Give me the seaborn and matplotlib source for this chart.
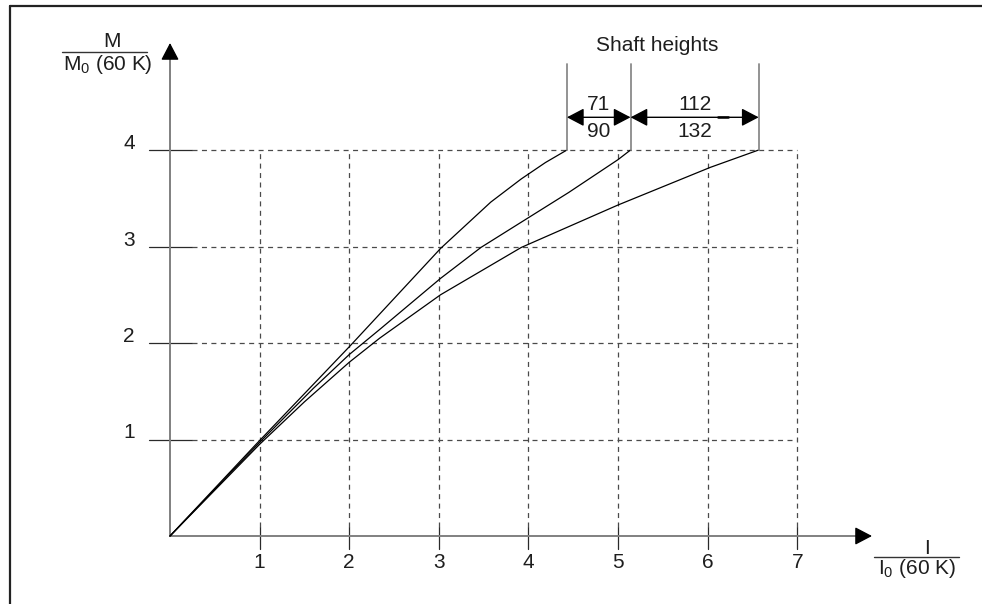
import numpy as np
import pandas as pd
import matplotlib
matplotlib.use("Agg")
import matplotlib.pyplot as plt
from matplotlib.lines import Line2D
import seaborn as sns

# Torque/current characteristics for the shaft height groups
shaft_groups = ["71/90", "100", "112/132"]
curve_a_x = [0, 0.95, 2.01, 2.34, 3.02, 3.58, 3.92, 4.19, 4.43]
curve_a_y = [0, 0.94, 1.97, 2.30, 2.98, 3.46, 3.70, 3.87, 4.00]
curve_b_x = [0, 1.00, 1.60, 2.00, 2.34, 3.02, 3.47, 4.02, 4.45, 5.00, 5.14]
curve_b_y = [0, 0.97, 1.53, 1.88, 2.14, 2.67, 2.99, 3.31, 3.56, 3.90, 4.00]
curve_c_x = [0, 1.00, 1.50, 2.00, 2.34, 3.02, 3.92, 5.00, 6.03, 6.57]
curve_c_y = [0, 0.95, 1.39, 1.80, 2.05, 2.50, 2.99, 3.43, 3.82, 4.00]

x_ticks = [1, 2, 3, 4, 5, 6, 7]
y_ticks = [1, 2, 3, 4]
dim_labels = [("71", "90"), ("112", "132")]

sns.set_theme(style="white")
plt.rcParams["font.family"] = ["Liberation Sans", "DejaVu Sans"]
plt.rcParams["mathtext.fontset"] = "custom"
plt.rcParams["mathtext.rm"] = "Liberation Sans"
plt.rcParams["mathtext.it"] = "Liberation Sans"
plt.rcParams["lines.scale_dashes"] = False

W, H = 982, 604
fig = plt.figure(figsize=(W / 100, H / 100), dpi=100)
ax = fig.add_axes([0, 0, 1, 1])

# pixel layout: origin at (170, 536), 89.6 px per x unit, 96.5 px per y unit
x0_px, y0_px, sx, sy = 170.0, 536.0, 89.6, 96.5
ax.set_xlim(-x0_px / sx, (W - x0_px) / sx)
ax.set_ylim(-(H - y0_px) / sy, y0_px / sy)
ax.set_axis_off()

def px_x(n):
    return n / sx

def px_y(n):
    return n / sy

TXT = "#1e1e1e"
FS = 15
grid_col = "#4a4a4a"
axis_col = "#808080"
dash = (0, (3.6, 3.2))

# dashed grid with short solid ticks
tick_left = -px_x(21)
grid_start = px_x(22)
for v in y_ticks:
    ax.plot([tick_left, grid_start], [v, v], color="#2a2a2a", lw=0.9)
    ax.plot([grid_start, x_ticks[-1]], [v, v], color=grid_col, lw=0.9, ls=dash)
    ax.text(-px_x(35), v + px_y(1), str(v), ha="right", va="baseline",
            fontsize=FS, color=TXT)
tick_top = px_y(9)
tick_bot = -px_y(13)
for v in x_ticks:
    ax.plot([v, v], [tick_bot, tick_top], color="#2a2a2a", lw=0.9)
    ax.plot([v, v], [tick_top, y_ticks[-1]], color=grid_col, lw=0.9, ls=dash)
    ax.text(v, -px_y(27), str(v), ha="center", va="center",
            fontsize=FS, color=TXT)

# axes with arrow heads
x_tip = px_x(872 - x0_px)
y_tip = px_y(y0_px - 43)
head = dict(arrowstyle="-|>,head_length=1.05,head_width=0.55",
            color="black", shrinkA=0, shrinkB=0, mutation_scale=10)
ax.plot([0, x_tip - px_x(14)], [0, 0], color=axis_col, lw=1.4)
ax.plot([0, 0], [0, y_tip - px_y(14)], color=axis_col, lw=1.4)
ax.annotate("", xy=(x_tip, 0), xytext=(x_tip - px_x(15), 0), arrowprops=head)
ax.annotate("", xy=(0, y_tip), xytext=(0, y_tip - px_y(15)), arrowprops=head)

# characteristic curves
frames = []
for name, xs, ys in zip(shaft_groups, [curve_a_x, curve_b_x, curve_c_x],
                        [curve_a_y, curve_b_y, curve_c_y]):
    frames.append(pd.DataFrame({"I": xs, "M": ys, "shaft": name,
                                "order": np.arange(len(xs))}))
df = pd.concat(frames, ignore_index=True)
sns.lineplot(data=df, x="I", y="M", hue="shaft", units="shaft",
             estimator=None, sort=False, palette=["black"] * 3,
             linewidth=0.9, legend=False, ax=ax)

# dimension lines for the shaft heights
ends = [curve_a_x[-1], curve_b_x[-1], curve_c_x[-1]]
top_y = px_y(y0_px - 64)
for xe in ends:
    ax.plot([xe, xe], [4.0, top_y], color="#8a8a8a", lw=1.3)
arr_y = px_y(y0_px - 117.3)
dim = dict(arrowstyle="<|-|>,head_length=1.05,head_width=0.55",
           color="black", lw=1.0, shrinkA=0, shrinkB=0, mutation_scale=10)
for (a, b), (top, bot) in zip(zip(ends[:-1], ends[1:]), dim_labels):
    ax.annotate("", xy=(a, arr_y), xytext=(b, arr_y), arrowprops=dim)
    mid = (a + b) / 2
    ax.text(mid, arr_y + px_y(13), top, ha="center", va="center",
            fontsize=FS, color=TXT)
    ax.text(mid, arr_y - px_y(14), bot, ha="center", va="center",
            fontsize=FS, color=TXT)
ax.plot([px_x(718 - x0_px), px_x(728 - x0_px)], [arr_y, arr_y],
        color="#222222", lw=2.0)
ax.text(px_x(657 - x0_px), px_y(y0_px - 45.4), "Shaft heights",
        ha="center", va="center", fontsize=FS, color=TXT)

# axis titles written as fractions
ax.text(px_x(112 - x0_px), px_y(y0_px - 41.7), "M", ha="center", va="center",
        fontsize=FS, color=TXT)
ax.plot([px_x(62 - x0_px), px_x(147 - x0_px)],
        [px_y(y0_px - 51.7)] * 2, color="#333333", lw=1.0)
ax.text(px_x(108 - x0_px), px_y(y0_px - 65), r"M$_{\mathrm{0}}$ (60 K)",
        ha="center", va="center", fontsize=FS, color=TXT)

ax.text(px_x(926.7 - x0_px), px_y(y0_px - 548), "I", ha="center",
        va="center", fontsize=FS, color=TXT)
ax.plot([px_x(874 - x0_px), px_x(959 - x0_px)],
        [px_y(y0_px - 556.5)] * 2, color="#333333", lw=1.0)
ax.text(px_x(916.5 - x0_px), px_y(y0_px - 568), r"I$_{\mathrm{0}}$ (60 K)",
        ha="center", va="center", fontsize=FS, color=TXT)

# drawing frame along the top and left edges
fig.add_artist(Line2D([10 / W, 1.0], [1 - 6 / H, 1 - 6 / H],
                      transform=fig.transFigure, color="#222222", lw=1.6))
fig.add_artist(Line2D([10 / W, 10 / W], [0.0, 1 - 6 / H],
                      transform=fig.transFigure, color="#222222", lw=1.6))

fig.savefig("out.png", dpi=100, facecolor="white")
